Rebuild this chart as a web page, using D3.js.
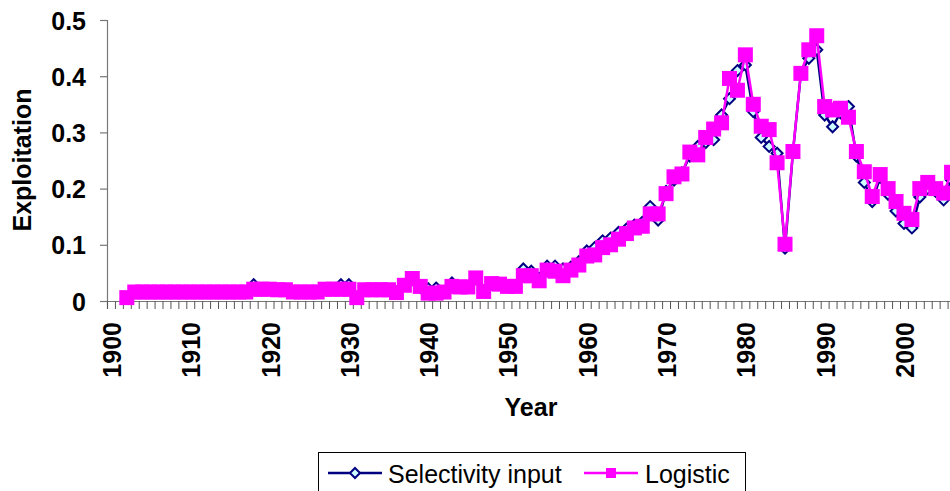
<!DOCTYPE html>
<html><head><meta charset="utf-8">
<script src="https://cdn.jsdelivr.net/npm/d3@7"></script>
<style>body{margin:0;background:#fff}svg{display:block}text{font-family:"Liberation Sans",Arial,sans-serif}</style>
</head><body>
<script>
const years = d3.range(1902, 2007);
const selectivity = [
0.006,
0.015,0.015,0.015,0.015,0.015,0.015,0.015,0.015,0.015,0.015,0.015,0.015,0.015,0.015,0.015,
0.029,0.020,0.022,0.020,0.020,
0.016,0.016,0.016,0.016,
0.021,0.021,0.029,0.029,
0.006,
0.020,0.020,0.020,0.020,
0.015,0.028,0.038,0.024,0.022,0.023,0.016,0.032,0.025,0.025,0.040,0.018,0.030,0.030,0.026,0.027,
0.057,0.053,0.040,0.062,0.062,0.057,0.060,0.070,0.089,0.095,
0.107,0.112,0.122,0.128,0.135,0.140,0.168,0.144,0.195,0.215,
0.228,0.258,0.275,0.282,0.287,0.331,0.360,0.410,0.420,0.337,
0.291,0.275,0.263,0.094,0.265,0.405,0.432,0.447,0.331,0.310,
0.335,0.346,0.258,0.211,0.177,0.220,0.190,0.160,0.138,0.130,
0.185,0.200,0.195,0.180,0.215];
const logistic = [
0.006,
0.016,0.016,0.016,0.016,0.016,0.016,0.016,0.016,0.016,0.016,0.016,0.016,0.016,0.016,0.016,
0.021,0.021,0.021,0.020,0.020,
0.016,0.016,0.016,0.016,
0.021,0.021,0.021,0.021,
0.006,
0.020,0.020,0.020,0.020,
0.015,0.028,0.040,0.026,0.014,0.014,0.016,0.026,0.025,0.025,0.041,0.017,0.031,0.030,0.026,0.026,
0.045,0.045,0.036,0.055,0.053,0.045,0.055,0.064,0.080,0.082,
0.095,0.100,0.110,0.120,0.130,0.133,0.155,0.155,0.191,0.221,
0.226,0.265,0.260,0.291,0.306,0.317,0.396,0.375,0.438,0.350,
0.311,0.305,0.246,0.101,0.266,0.405,0.447,0.472,0.346,0.340,
0.343,0.327,0.266,0.230,0.186,0.225,0.200,0.177,0.156,0.145,
0.200,0.211,0.200,0.192,0.229];
const yTicks = [0, 0.1, 0.2, 0.3, 0.4, 0.5];
const xLabelYears = [1900, 1910, 1920, 1930, 1940, 1950, 1960, 1970, 1980, 1990, 2000];
const seriesNames = ["Selectivity input", "Logistic"];

const W = 950, H = 491;
const step = 7.93, x0 = 107;
const x = d3.scaleLinear().domain([1899.5, 2010.5]).range([x0, x0 + 111 * step]);
const y = d3.scaleLinear().domain([0, 0.5]).range([301, 20]);
const FS = 25;

const svg = d3.select("body").append("svg").attr("width", W).attr("height", H);

// Y axis
const yAxis = svg.append("g").attr("transform", `translate(${x0},0)`)
  .call(d3.axisLeft(y).tickValues(yTicks).tickSize(7).tickPadding(0)
    .tickFormat(d => d === 0 ? "0" : d3.format(".1f")(d)));
yAxis.select(".domain").attr("stroke", "#777").attr("stroke-width", 1.2);
yAxis.selectAll(".tick line").attr("stroke", "#777").attr("stroke-width", 1.2);
yAxis.selectAll(".tick text").attr("font-size", FS).attr("font-weight", "bold").attr("fill", "#000")
  .attr("x", -21).attr("dy", null).attr("text-anchor", "end").attr("dominant-baseline", "central");

// X axis (ticks between categories)
const xAxis = svg.append("g").attr("transform", "translate(0,301)")
  .call(d3.axisBottom(x).tickValues(d3.range(1899.5, 2011.5, 1)).tickSize(8).tickFormat(""));
xAxis.select(".domain").attr("stroke", "#777").attr("stroke-width", 1.2);
xAxis.selectAll(".tick line").attr("stroke", "#555").attr("stroke-width", 1);

// X labels
svg.append("g").selectAll("text").data(xLabelYears).join("text")
  .attr("transform", d => `translate(${x(d) + 1},322) rotate(-90)`)
  .attr("text-anchor", "end").attr("dominant-baseline", "central")
  .attr("font-size", FS).attr("font-weight", "bold").text(d => d);

// Axis titles
svg.append("text").attr("transform", "translate(22,160) rotate(-90)")
  .attr("text-anchor", "middle").attr("dominant-baseline", "central")
  .attr("font-size", FS).attr("font-weight", "bold").text("Exploitation");
svg.append("text").attr("x", 531).attr("y", 416)
  .attr("text-anchor", "middle").attr("font-size", FS).attr("font-weight", "bold").text("Year");

// Series
const selData = years.map((yr, i) => [yr, selectivity[i]]);
const logData = years.map((yr, i) => [yr, logistic[i]]);
const line = d3.line().x(d => x(d[0])).y(d => y(d[1]));

svg.append("path").datum(selData).attr("d", line).attr("fill", "none").attr("stroke", "#000080").attr("stroke-width", 2.5);
const diamond = s => `M0,${-s}L${s},0L0,${s}L${-s},0Z`;
svg.append("g").selectAll("path").data(selData).join("path")
  .attr("transform", d => `translate(${x(d[0])},${y(d[1])})`)
  .attr("d", diamond(5.5)).attr("fill", "#CCFFFF").attr("stroke", "#000080").attr("stroke-width", 2);

svg.append("path").datum(logData).attr("d", line).attr("fill", "none").attr("stroke", "#FF00FF").attr("stroke-width", 2.5);
svg.append("g").selectAll("rect").data(logData).join("rect")
  .attr("x", d => x(d[0]) - 7.5).attr("y", d => y(d[1]) - 7.5).attr("width", 15).attr("height", 15)
  .attr("fill", "#FF00FF");

// Legend
const lg = svg.append("g");
lg.append("rect").attr("x", 318.5).attr("y", 452.5).attr("width", 427).attr("height", 50)
  .attr("fill", "#fff").attr("stroke", "#000").attr("stroke-width", 1);
lg.append("line").attr("x1", 328).attr("x2", 382).attr("y1", 473).attr("y2", 473).attr("stroke", "#000080").attr("stroke-width", 2.5);
lg.append("path").attr("transform", "translate(355,473)").attr("d", diamond(5)).attr("fill", "#CCFFFF").attr("stroke", "#000080").attr("stroke-width", 2);
lg.append("text").attr("x", 388).attr("y", 474).attr("dominant-baseline", "central").attr("font-size", 25).text(seriesNames[0]);
lg.append("line").attr("x1", 584).attr("x2", 638).attr("y1", 473).attr("y2", 473).attr("stroke", "#FF00FF").attr("stroke-width", 2.5);
lg.append("rect").attr("x", 606).attr("y", 468).attr("width", 10).attr("height", 10).attr("fill", "#FF00FF");
lg.append("text").attr("x", 645).attr("y", 474).attr("dominant-baseline", "central").attr("font-size", 25).text(seriesNames[1]);
</script>
</body></html>
